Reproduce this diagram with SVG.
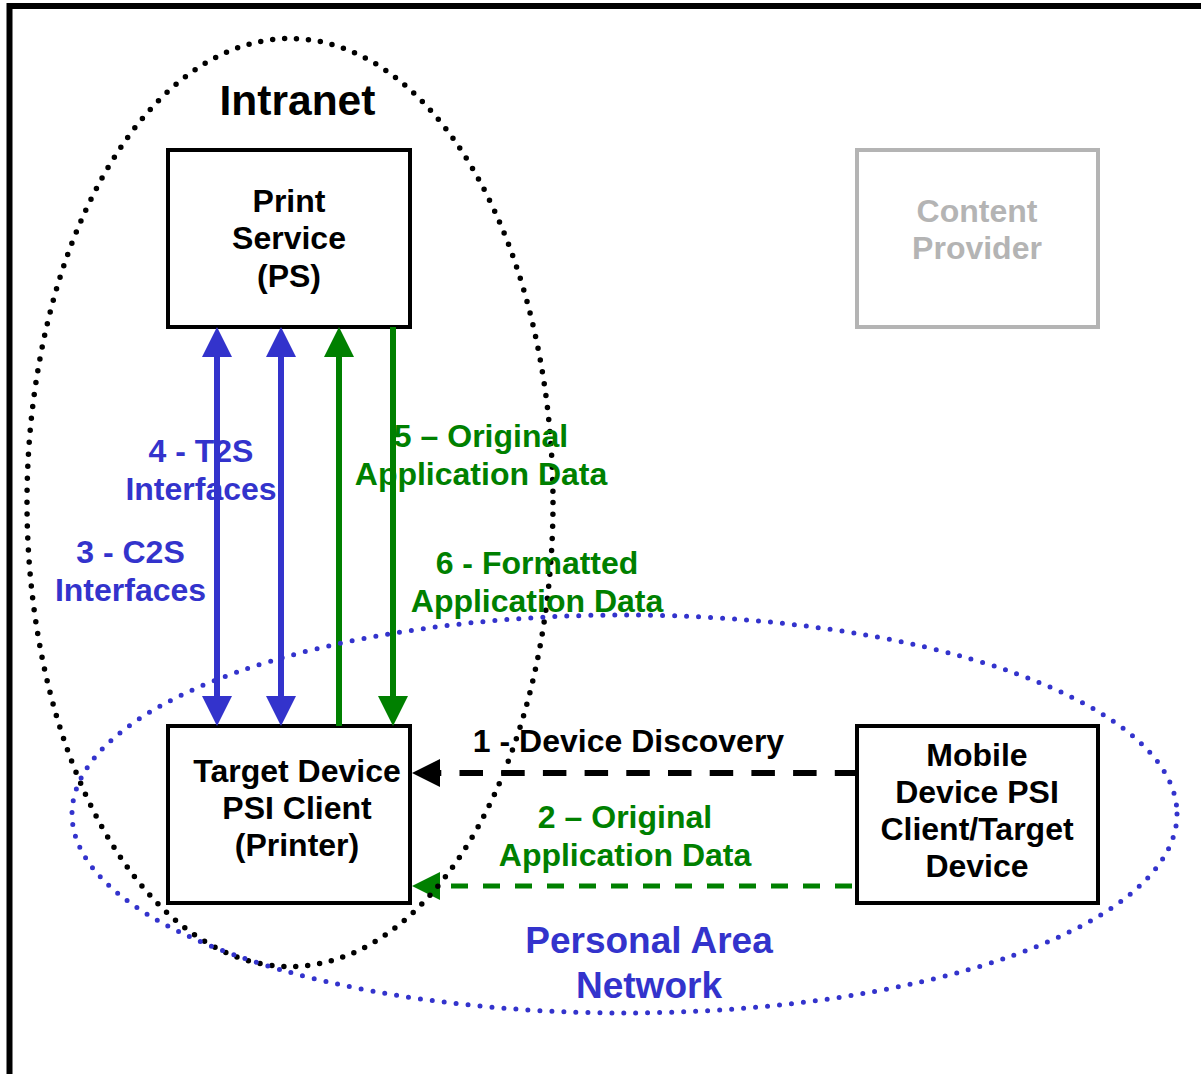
<svg xmlns="http://www.w3.org/2000/svg" width="1201" height="1074" viewBox="0 0 1201 1074">
<style>
text{font-family:"Liberation Sans",Arial,sans-serif;font-weight:bold;text-anchor:middle}
.t{font-size:32px}
.blue{fill:#3333cc}
.green{fill:#008000}
.gray{fill:#b4b4b4}
.box{fill:#fff;stroke:#000;stroke-width:4}
</style>
<defs>
<marker id="hb" viewBox="0 0 30 30" refX="0" refY="15" markerWidth="30" markerHeight="30" markerUnits="userSpaceOnUse" orient="auto-start-reverse"><path d="M0,0 L30,15 L0,30 z" fill="#3333cc"/></marker>
<marker id="hg" viewBox="0 0 30 30" refX="0" refY="15" markerWidth="30" markerHeight="30" markerUnits="userSpaceOnUse" orient="auto-start-reverse"><path d="M0,0 L30,15 L0,30 z" fill="#008000"/></marker>
<marker id="hk2" viewBox="0 0 28 28" refX="0" refY="14" markerWidth="28" markerHeight="28" markerUnits="userSpaceOnUse" orient="auto"><path d="M0,0 L28,14 L0,28 z" fill="#000"/></marker>
<marker id="hg2" viewBox="0 0 28 28" refX="0" refY="14" markerWidth="28" markerHeight="28" markerUnits="userSpaceOnUse" orient="auto"><path d="M0,0 L28,14 L0,28 z" fill="#008000"/></marker>
</defs>
<rect width="1201" height="1074" fill="#fff"/>
<path d="M9.5,1080 V6 H1210" fill="none" stroke="#000" stroke-width="6"/>

<g id="print-service">
<rect class="box" x="168" y="150" width="242" height="177"/>
<text class="t" x="289" y="212">Print</text>
<text class="t" x="289" y="249">Service</text>
<text class="t" x="289" y="287">(PS)</text>
</g>
<g id="content-provider">
<rect x="857" y="150" width="241" height="177" fill="#fff" stroke="#b4b4b4" stroke-width="4"/>
<text class="t gray" x="977" y="222">Content</text>
<text class="t gray" x="977" y="259">Provider</text>
</g>
<g id="target-device">
<rect class="box" x="168" y="726" width="242" height="177"/>
<text class="t" x="297" y="782">Target Device</text>
<text class="t" x="297" y="819">PSI Client</text>
<text class="t" x="297" y="856">(Printer)</text>
</g>
<g id="mobile-device">
<rect class="box" x="857" y="726" width="241" height="177"/>
<text class="t" x="977" y="766">Mobile</text>
<text class="t" x="977" y="803">Device PSI</text>
<text class="t" x="977" y="840">Client/Target</text>
<text class="t" x="977" y="877">Device</text>
</g>

<g id="connectors" fill="none">
<path d="M217,357 V696" stroke="#3333cc" stroke-width="6" marker-start="url(#hb)" marker-end="url(#hb)"/>
<path d="M281,357 V696" stroke="#3333cc" stroke-width="6" marker-start="url(#hb)" marker-end="url(#hb)"/>
<path d="M339,726 V357" stroke="#008000" stroke-width="6" marker-end="url(#hg)"/>
<path d="M393,327 V696" stroke="#008000" stroke-width="6" marker-end="url(#hg)"/>
<path d="M856,773 H440" stroke="#000" stroke-width="6" stroke-dasharray="23.5 18.2" stroke-dashoffset="2.3" marker-end="url(#hk2)"/>
<path d="M856,886 H440" stroke="#008000" stroke-width="5" stroke-dasharray="17 15" stroke-dashoffset="28" marker-end="url(#hg2)"/>
</g>

<g id="intranet">
<ellipse cx="290" cy="502.5" rx="263" ry="464" fill="none" stroke="#000" stroke-width="5.5" stroke-linecap="round" stroke-dasharray="0 12"/>
<text x="297.5" y="115" font-size="42.5">Intranet</text>
</g>
<g id="pan">
<ellipse cx="624.5" cy="814" rx="552.5" ry="199" fill="none" stroke="#3333cc" stroke-width="5" stroke-linecap="round" stroke-dasharray="0 12"/>
<text class="blue" x="649" y="953" font-size="37">Personal Area</text>
<text class="blue" x="649" y="998" font-size="37">Network</text>
</g>

<g id="labels">
<text class="t blue" x="201" y="462">4 - T2S</text>
<text class="t blue" x="201" y="500">Interfaces</text>
<text class="t blue" x="130.5" y="563">3 - C2S</text>
<text class="t blue" x="130.5" y="601">Interfaces</text>
<text class="t green" x="481" y="447">5 – Original</text>
<text class="t green" x="481" y="485">Application Data</text>
<text class="t green" x="537" y="574">6 - Formatted</text>
<text class="t green" x="537" y="612">Application Data</text>
<text class="t" x="628.5" y="752">1 - Device Discovery</text>
<text class="t green" x="625" y="828">2 – Original</text>
<text class="t green" x="625" y="866">Application Data</text>
</g>
</svg>
